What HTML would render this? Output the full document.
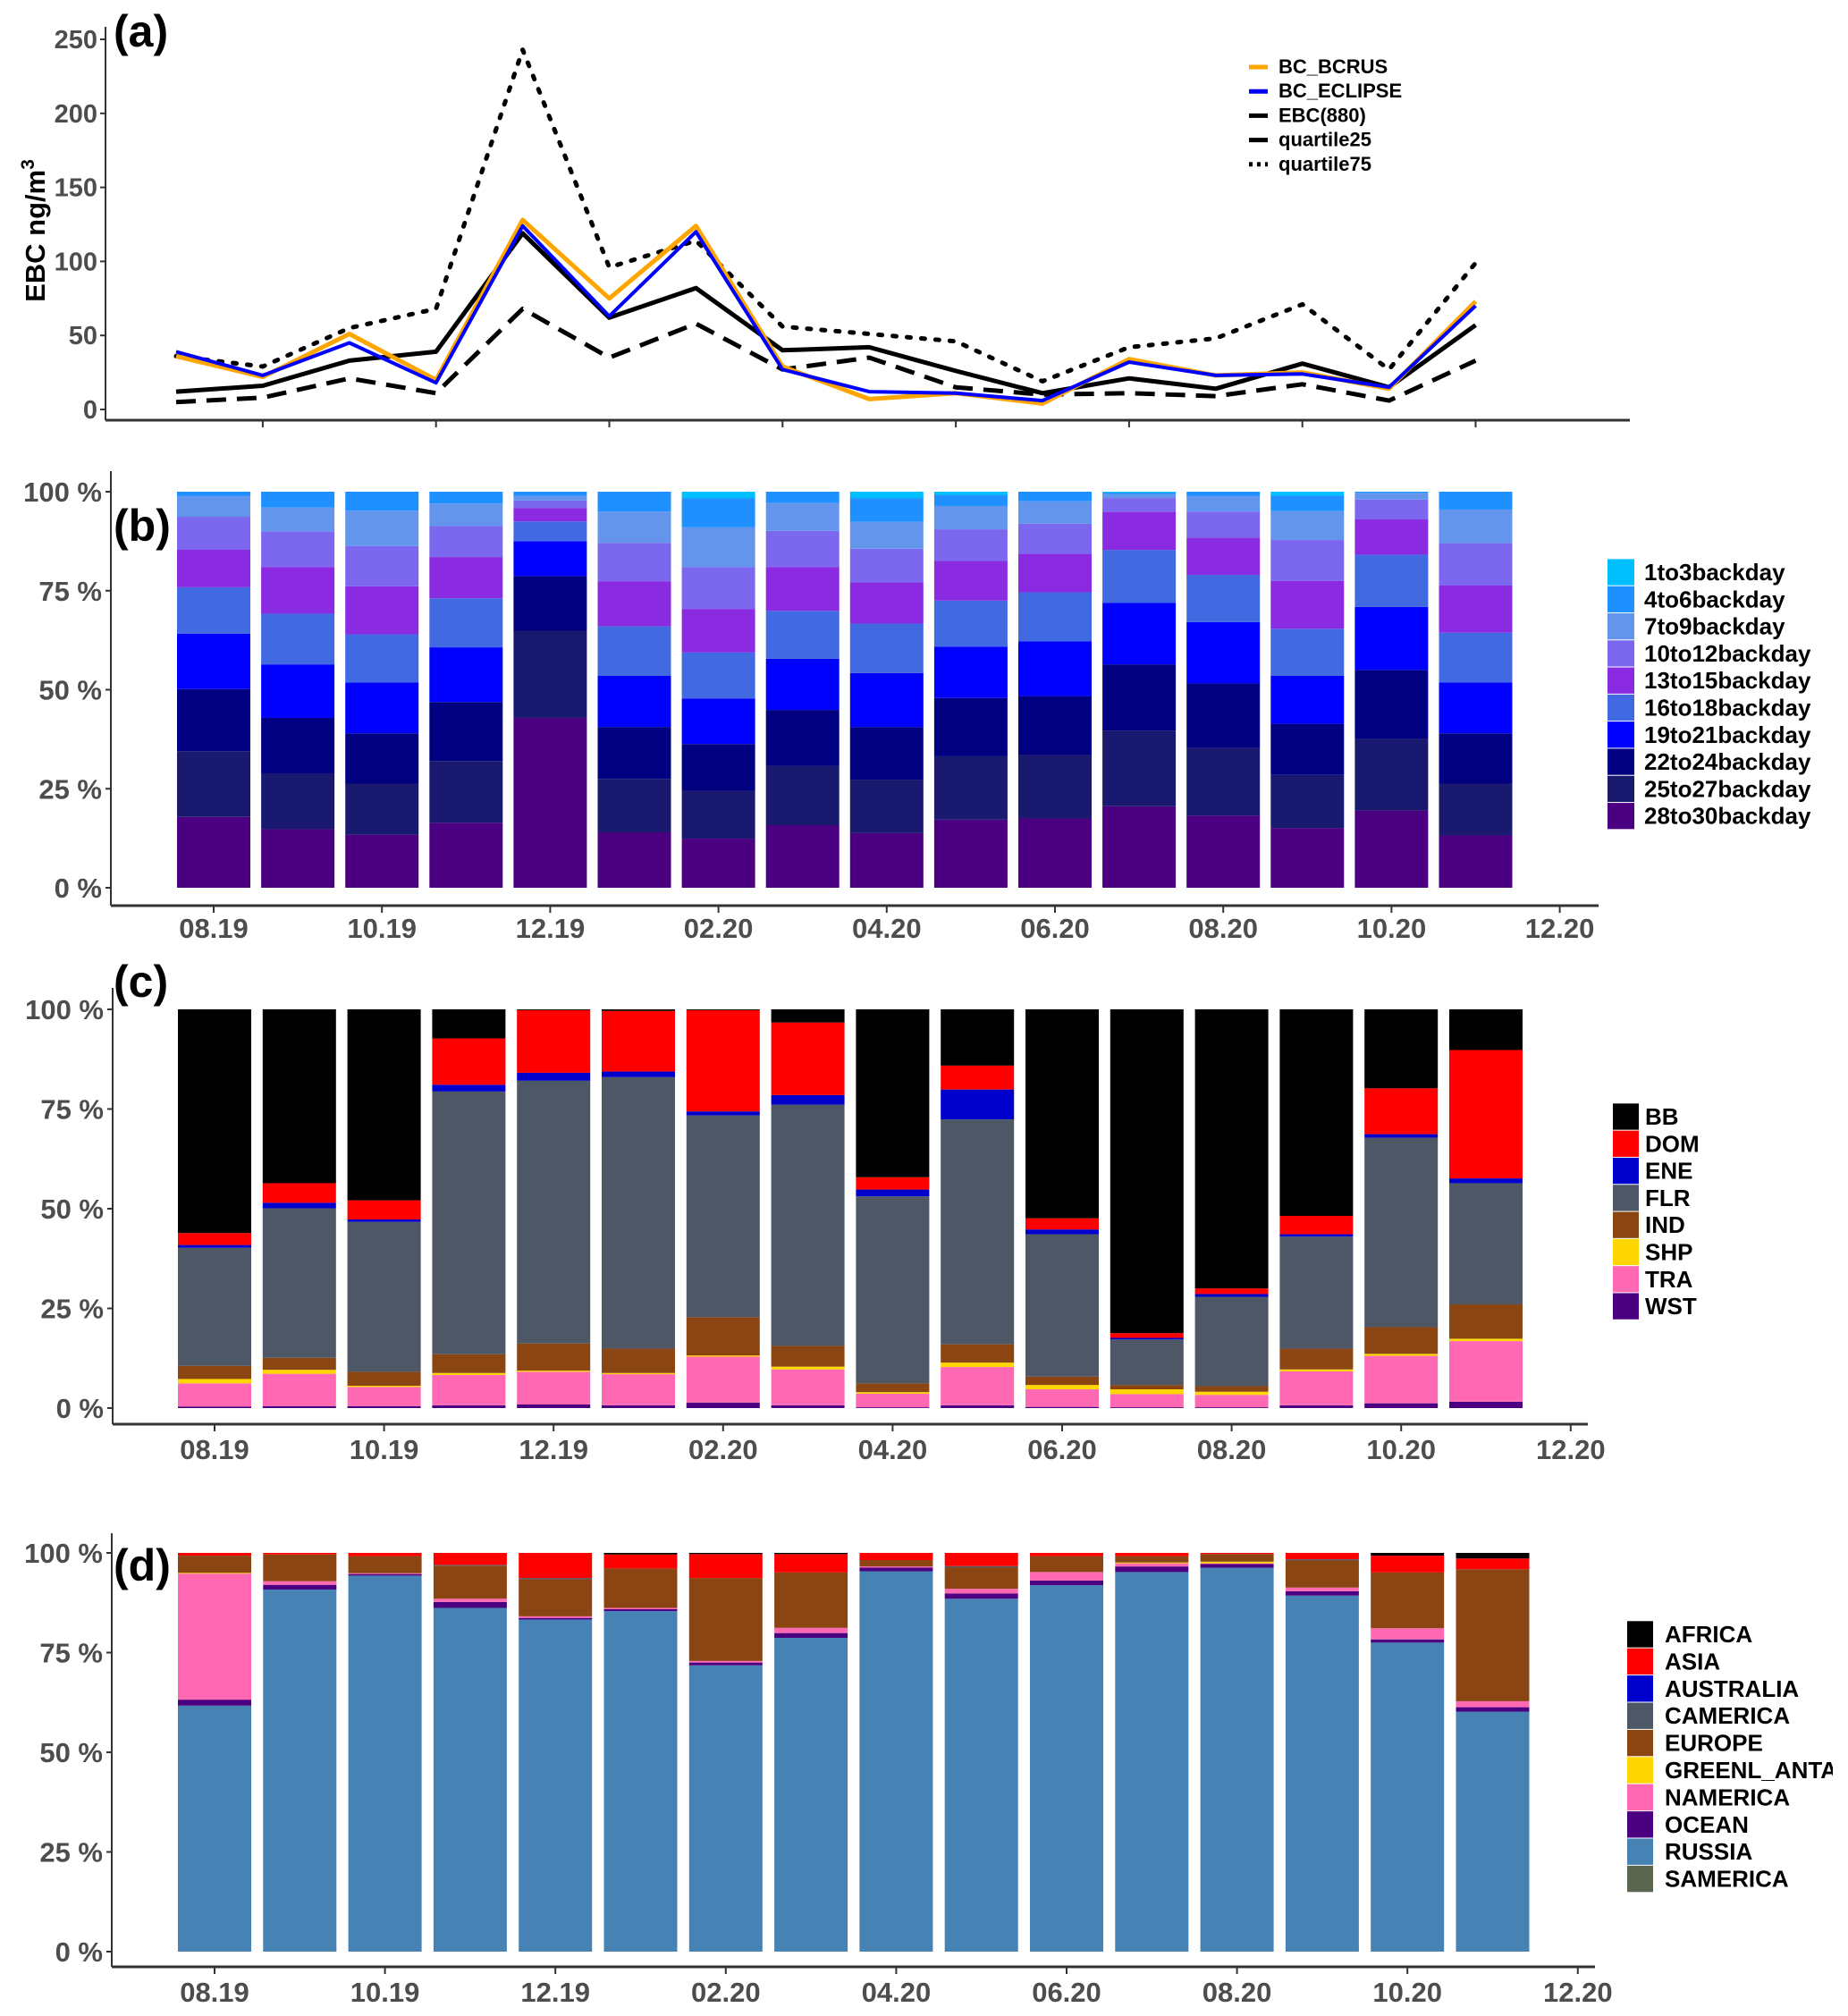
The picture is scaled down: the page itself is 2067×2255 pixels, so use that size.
<!DOCTYPE html>
<html><head><meta charset="utf-8">
<style>
html,body{margin:0;padding:0;background:#fff;}
svg{display:block;font-family:"Liberation Sans",Arial,sans-serif;font-weight:bold;}
</style></head>
<body>
<svg id="fig" width="2067" height="2255" viewBox="0 0 2067 2255" xmlns="http://www.w3.org/2000/svg">
<defs><clipPath id="clipD"><rect x="0" y="0" width="2050" height="2255"/></clipPath></defs>
<g id="pa"></g>
<g id="pb"></g>
<g id="pc"></g>
<g id="pd" clip-path="url(#clipD)"></g>
</svg>
<script>
// ---------- Panel (a) data ----------
const aYTicks = [0, 50, 100, 150, 200, 250];
const bcBcrus  = [36,22,51,20,128,75,124,29,7,11,4,34,23,25,14,73];
const bcEclipse= [39,23,45,18,124,63,120,27,12,11,6,32,23,24,15,70];
const ebc880   = [12,16,33,39,119,62,82,40,42,26,11,21,14,31,15,57];
const q25      = [5,8,21,11,68,35,58,27,35,15,10,11,9,17,6,33];
const q75      = [36,29,55,68,243,96,114,56,51,46,19,42,48,71,27,99];

// ---------- Shared x labels ----------
const monthLabels = ["08.19","10.19","12.19","02.20","04.20","06.20","08.20","10.20","12.20"];

// ---------- Panel (b) data (bottom -> top) ----------
const bCats = ["28to30backday","25to27backday","22to24backday","19to21backday","16to18backday","13to15backday","10to12backday","7to9backday","4to6backday","1to3backday"];
const bColors = ["#4B0082","#191970","#000080","#0000FF","#4169E1","#8A2BE2","#7B68EE","#6495ED","#1E90FF","#00BFFF"];
const b28to30 = [17.8,14.8,13.4,16.4,42.9,14,12.4,15.8,13.8,17.2,17.5,20.6,18.2,15.1,19.5,13.2];
const b25to27 = [16.5,14.1,12.9,15.6,22,13.5,12.1,15,13.5,16,16,19.1,17.1,13.4,18.1,13.1];
const b22to24 = [15.6,14,12.7,14.9,13.8,13.1,11.8,14.1,13.3,14.7,14.9,16.7,16.3,12.9,17.4,12.7];
const b19to21 = [13.9,13.5,12.8,13.8,8.8,12.9,11.5,12.9,13.6,13,13.8,15.5,15.5,12.1,15.9,12.8];
const b16to18 = [11.7,12.8,12.2,12.4,5,12.5,11.6,12.1,12.5,11.6,12.4,13.4,11.9,11.9,13.2,12.6];
const b13to15 = [9.4,11.8,12.1,10.4,3.4,11.4,11,11.1,10.4,10,9.7,9.6,9.4,12.1,8.9,11.9];
const b10to12 = [8.3,9,10.2,7.8,1.9,9.7,10.6,9.1,8.5,8,7.6,3.5,6.6,10.3,5,10.7];
const b7to9   = [5.2,6,8.9,5.7,1.2,7.9,10,7.1,6.8,5.9,5.7,1,3.9,7.3,1.7,8.5];
const b4to6   = [1.1,4,4.8,3,1,5,7.4,2.8,6,2.8,2.4,0.4,1.1,3.9,0.3,4.5];
const b1to3   = [0,0,0,0,0,0,1.6,0,1.6,0.8,0,0.2,0,1,0,0];

// ---------- Panel (c) data (bottom -> top) ----------
const cCats = ["WST","TRA","SHP","IND","FLR","ENE","DOM","BB"];
const cColors = ["#4B0082","#FF69B4","#FFD700","#8B4513","#4D5766","#0000CD","#FF0000","#000000"];
const cWST = [0.4,0.5,0.5,0.7,0.9,0.7,1.4,0.7,0.2,0.7,0.3,0.2,0.2,0.7,1.2,1.6];
const cTRA = [5.8,8.1,4.8,7.6,8.2,7.8,11.5,9,3.4,9.6,4.4,3.3,3.1,8.5,11.9,15.2];
const cSHP = [1.1,1,0.3,0.5,0.3,0.3,0.3,0.7,0.4,1.1,1.1,1.2,0.8,0.5,0.5,0.6];
const cIND = [3.3,3,3.5,4.7,6.8,6.1,9.6,5.2,2.2,4.6,2.1,1.1,1.4,5.2,6.7,8.6];
const cFLR = [29.6,37.5,37.6,65.9,65.9,68.1,50.6,60.5,46.9,56.4,35.7,11.4,22.4,28.1,47.5,30.4];
const cENE = [0.7,1.4,0.6,1.7,2,1.4,1,2.4,1.7,7.5,1.2,0.4,0.7,0.6,0.9,1.2];
const cDOM = [3,4.9,4.8,11.6,15.7,15.2,25.4,18.2,3.1,6,2.8,1.2,1.4,4.6,11.5,32.2];
const cBB  = [56.1,43.6,47.9,7.3,0.2,0.4,0.2,3.3,42.1,14.1,52.4,81.2,70,51.8,19.8,10.2];

// ---------- Panel (d) data (bottom -> top) ----------
const dCats = ["SAMERICA","RUSSIA","OCEAN","NAMERICA","GREENL_ANT","EUROPE","CAMERICA","AUSTRALIA","ASIA","AFRICA"];
const dLegendNames = ["SAMERICA","RUSSIA","OCEAN","NAMERICA","GREENL_ANTA","EUROPE","CAMERICA","AUSTRALIA","ASIA","AFRICA"];
const dColors = ["#5A6650","#4682B4","#4B0082","#FF69B4","#FFD700","#8B4513","#4D5766","#0000CD","#FF0000","#000000"];
const dSAMERICA = [0,0,0,0,0,0,0,0,0,0,0,0,0,0,0,0];
const dRUSSIA   = [61.7,90.8,94.3,86.2,83.3,85.4,71.8,78.7,95.4,88.5,91.9,95.2,96.3,89.3,77.5,60.2];
const dOCEAN    = [1.5,1.2,0.4,1.5,0.4,0.5,0.7,1.2,0.9,1.3,1.2,1.4,0.9,1.1,0.8,1.1];
const dNAMERICA = [31.6,0.9,0.2,0.8,0.4,0.3,0.4,1.3,0.3,1.2,2.1,0.8,0.2,0.9,2.8,1.5];
const dGREENL   = [0.2,0,0,0,0,0,0,0,0,0,0,0.2,0.4,0,0,0];
const dEUROPE   = [4.3,6.7,4.3,8.3,9.3,9.9,20.8,13.9,1.6,5.4,4,1.6,1.9,6.8,14,33.1];
const dCAMERICA = [0,0,0,0.2,0.3,0,0,0,0,0.3,0,0,0,0.3,0,0];
const dAUSTRALIA= [0,0,0,0,0,0,0,0,0,0,0,0,0,0,0,0];
const dASIA     = [0.7,0.4,0.8,3,6.3,3.5,6,4.6,1.8,3.3,0.8,0.8,0.3,1.6,4.2,2.7];
const dAFRICA   = [0,0,0,0,0,0.4,0.3,0.3,0,0,0,0,0,0,0.7,1.4];

const NS = "http://www.w3.org/2000/svg";
function mk(parent, tag, attrs, text){
  const e = document.createElementNS(NS, tag);
  for (const k in attrs) e.setAttribute(k, attrs[k]);
  if (text !== undefined) e.textContent = text;
  parent.appendChild(e);
  return e;
}
const GRAY = "#4d4d4d";

// ================= Panel (a) =================
(function(){
  const g = document.getElementById('pa');
  const x0 = 197, dx = 96.9, yAxisX = 118, yBase = 458, yTop = 44;
  const xS = i => x0 + i*dx;
  const yS = v => yBase - v*(yBase-yTop)/250;
  let e = mk(g,'line',{x1:yAxisX,y1:30,x2:yAxisX,y2:470,stroke:"#333","stroke-width":2});
  
  
  e = mk(g,'line',{x1:yAxisX,y1:470,x2:1823,y2:470,stroke:"#333","stroke-width":3});
  
  
  aYTicks.forEach(t=>{
    const y = yS(t);
    let tk = mk(g,'line',{x1:yAxisX-6,y1:y,x2:yAxisX,y2:y,stroke:"#333","stroke-width":2});
    
    
    let lb = mk(g,'text',{x:yAxisX-9,y:y+10,"text-anchor":"end","font-size":29,fill:GRAY},String(t));
    
    
  });
  for (let i=1;i<16;i+=2){
    let tk = mk(g,'line',{x1:xS(i),y1:470,x2:xS(i),y2:478,stroke:"#333","stroke-width":2});
    
    
  }
  const title = mk(g,'text',{x:0,y:0,transform:"translate(50,258) rotate(-90)","text-anchor":"middle","font-size":31,fill:"#000"});
  
  
  title.innerHTML = 'EBC ng/m<tspan dy="-12" font-size="21">3</tspan>';
  const lab = mk(g,'text',{x:127,y:52,"font-size":50,fill:"#000"},"(a)");
  
  
  const series = [
    {name:'quartile75', d:q75, c:'#000', dash:'4 12', w:5, cap:'round'},
    {name:'quartile25', d:q25, c:'#000', dash:'22 12', w:5, cap:'butt'},
    {name:'EBC(880)', d:ebc880, c:'#000', dash:'', w:5, cap:'butt'},
    {name:'BC_BCRUS', d:bcBcrus, c:'#FFA500', dash:'', w:5, cap:'butt'},
    {name:'BC_ECLIPSE', d:bcEclipse, c:'#0000FF', dash:'', w:4, cap:'butt'}
  ];
  series.forEach(s=>{
    const pts = s.d.map((v,i)=>xS(i).toFixed(1)+','+yS(v).toFixed(1)).join(' ');
    const pl = mk(g,'polyline',{points:pts,fill:'none',stroke:s.c,'stroke-width':s.w,'stroke-dasharray':s.dash,'stroke-linecap':s.cap,'stroke-linejoin':'round'});
    
    
  });
  const leg = [
    ['BC_BCRUS','#FFA500',''],['BC_ECLIPSE','#0000FF',''],['EBC(880)','#000',''],['quartile25','#000',''],['quartile75','#000','4 5']
  ];
  leg.forEach((l,i)=>{
    const y = 75 + i*27.2;
    const sw = mk(g,'line',{x1:1397,y1:y,x2:1418,y2:y,stroke:l[1],'stroke-width':5,'stroke-dasharray':l[2]});
    
    
    const t = mk(g,'text',{x:1430,y:y+7,'font-size':22,fill:'#000'},l[0]);
    
    
  });
})();

// ================= Stacked bar panels =================
function stackPanel(opt){
  const g = document.getElementById(opt.id);
  const xS = i => opt.x0 + i*opt.dx;
  const yS = p => opt.y0 - p*(opt.y0-opt.y100)/100;
  let e = mk(g,'line',{x1:opt.ax,y1:opt.axTop,x2:opt.ax,y2:opt.axBot,stroke:"#333","stroke-width":2});
  
  
  e = mk(g,'line',{x1:opt.ax,y1:opt.axBot,x2:opt.axRight,y2:opt.axBot,stroke:"#333","stroke-width":3});
  
  
  [0,25,50,75,100].forEach(p=>{
    const y = yS(p);
    const tk = mk(g,'line',{x1:opt.ax-6,y1:y,x2:opt.ax,y2:y,stroke:"#333","stroke-width":2});
    
    
    const lb = mk(g,'text',{x:opt.ax-10,y:y+11,'text-anchor':'end','font-size':31,fill:GRAY},p+' %');
    
    
  });
  monthLabels.forEach((m,k)=>{
    const x = xS(2*k);
    const tk = mk(g,'line',{x1:x,y1:opt.axBot,x2:x,y2:opt.axBot+8,stroke:"#333","stroke-width":2});
    
    
    const lb = mk(g,'text',{x:x,y:opt.axBot+opt.labOff,'text-anchor':'middle','font-size':31,fill:GRAY},m);
    
    
  });
  const n = opt.series[0].length;
  for (let i=0;i<n;i++){
    let tot = 0; opt.series.forEach(s=>tot+=s[i]);
    let cum = 0;
    opt.series.forEach((s,j)=>{
      const v = s[i]/tot*100;
      if (v<=0) return;
      const yTopV = yS(cum+v), yBot = yS(cum);
      const r = mk(g,'rect',{x:xS(i)-opt.bw/2,y:yTopV,width:opt.bw,height:Math.max(0,yBot-yTopV),fill:opt.colors[j]});
      
      
      cum += v;
    });
  }
  const lab = mk(g,'text',{x:127,y:opt.labelY,'font-size':50,fill:'#000'},'('+opt.tag+')');
  
  
  const names = opt.legendNames || opt.cats;
  const L = names.length;
  for (let k=0;k<L;k++){
    const j = L-1-k;
    const y = opt.legY + k*opt.legStep;
    const sw = mk(g,'rect',{x:opt.legX,y:y-opt.legStep/2+0.5,width:opt.legW,height:opt.legStep-1,fill:opt.colors[j]});
    
    
    const t = mk(g,'text',{x:opt.legTX,y:y+9,'font-size':26,fill:'#000'},names[j]);
    
    
  }
}

stackPanel({id:'pb',tag:'b',x0:239,dx:94.1,bw:82,y0:993,y100:550,ax:124,axTop:527,axBot:1013,axRight:1788,labOff:36,
  series:[b28to30,b25to27,b22to24,b19to21,b16to18,b13to15,b10to12,b7to9,b4to6,b1to3],cats:bCats,colors:bColors,
  labelY:605,legX:1798,legW:30,legY:640,legStep:30.3,legTX:1839});

stackPanel({id:'pc',tag:'c',x0:240,dx:94.8,bw:82,y0:1575,y100:1129,ax:126,axTop:1105,axBot:1593,axRight:1776,labOff:39,
  series:[cWST,cTRA,cSHP,cIND,cFLR,cENE,cDOM,cBB],cats:cCats,colors:cColors,
  labelY:1115,legX:1804,legW:29,legY:1249,legStep:30.3,legTX:1840});

stackPanel({id:'pd',tag:'d',x0:240,dx:95.3,bw:82,y0:2183,y100:1737,ax:125,axTop:1715,axBot:2200,axRight:1784,labOff:39,
  series:[dSAMERICA,dRUSSIA,dOCEAN,dNAMERICA,dGREENL,dEUROPE,dCAMERICA,dAUSTRALIA,dASIA,dAFRICA],cats:dCats,legendNames:dLegendNames,colors:dColors,
  labelY:1768,legX:1820,legW:29,legY:1828,legStep:30.4,legTX:1862});
</script>
</body></html>
